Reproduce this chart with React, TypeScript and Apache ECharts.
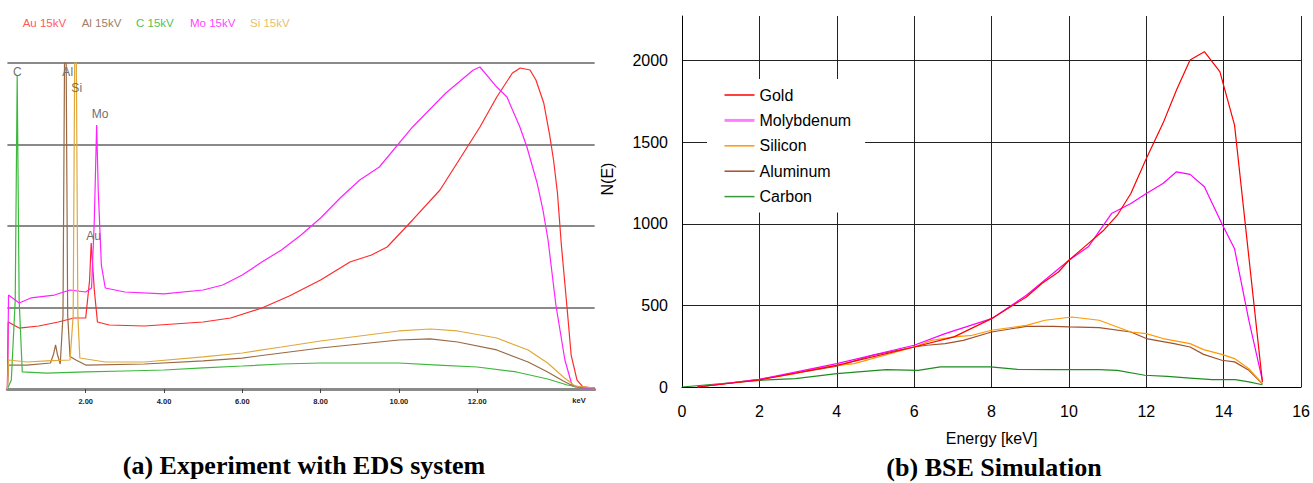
import React, { useEffect, useRef } from "react";
import * as echarts from "echarts";

// ---------- (a) Experiment with EDS system : [keV, counts] ----------
const auExp: number[][] = [[0,0],[0.02,822],[0.3,748],[0.8,773],[1.3,822],[1.7,871],[2.0,871],[2.1,1337],[2.14,1791],[2.22,1215],[2.3,822],[2.6,785],[3.5,773],[5.0,822],[5.7,871],[6.5,994],[7.2,1141],[8.0,1337],[8.75,1558],[9.3,1644],[9.7,1742],[10.35,2074],[11.05,2442],[11.65,2896],[12.07,3215],[12.5,3583],[12.9,3877],[13.1,3939],[13.35,3914],[13.5,3791],[13.7,3509],[13.85,3117],[13.95,2810],[14.05,2405],[14.15,1767],[14.3,969],[14.4,417],[14.55,110],[14.7,25],[15,12]];
const moExp: number[][] = [[0,0],[0.03,1153],[0.3,1055],[0.6,1117],[1.2,1153],[1.6,1215],[2.0,1190],[2.15,1239],[2.22,2074],[2.28,3239],[2.32,2442],[2.4,1521],[2.5,1239],[3.0,1190],[4.0,1166],[5.0,1215],[5.5,1276],[6.0,1399],[6.5,1558],[7.0,1706],[7.5,1890],[8.0,2098],[8.5,2344],[9.0,2564],[9.5,2724],[10.35,3215],[11.2,3632],[11.9,3914],[12.07,3951],[12.5,3705],[12.76,3583],[13.09,3215],[13.27,2969],[13.53,2528],[13.68,2196],[13.81,1828],[14.01,1031],[14.24,356],[14.42,49],[14.7,12],[15,12]];
const siExp: number[][] = [[0,0],[0.03,356],[0.5,331],[1.0,344],[1.6,356],[1.68,900],[1.72,4100],[1.76,4100],[1.8,900],[1.85,380],[2.5,331],[3.5,331],[5.0,393],[6.0,442],[7.0,515],[8.0,589],[9.0,650],[10.0,712],[10.8,736],[11.5,712],[12.5,626],[13.3,479],[13.8,319],[14.2,147],[14.5,37],[15,12]];
const alExp: number[][] = [[0,0],[0.03,294],[0.5,294],[1.1,319],[1.18,430],[1.23,540],[1.28,420],[1.35,307],[1.42,900],[1.46,4100],[1.5,4100],[1.54,900],[1.6,400],[1.75,356],[2.0,294],[3.5,307],[5.0,344],[6.0,380],[7.0,442],[8.0,503],[9.0,552],[10.0,601],[10.8,614],[11.5,577],[12.5,479],[13.3,331],[13.8,209],[14.2,98],[14.5,25],[15,12]];
const cExp: number[][] = [[0,0],[0.1,110],[0.2,1092],[0.25,3853],[0.3,1092],[0.38,209],[1.0,196],[2.0,209],[3.0,221],[4.0,233],[5.0,258],[6.0,282],[7.0,307],[8.0,319],[9.0,319],[10.0,319],[11.0,294],[12.0,270],[13.0,209],[13.8,123],[14.3,49],[14.7,12],[15,12]];
const expNames = ["Au 15kV", "Al 15kV", "C 15kV", "Mo 15kV", "Si 15kV"];
const expTicks = [2, 4, 6, 8, 10, 12];

// ---------- (b) BSE Simulation : [keV, N(E)] ----------
const gold: number[][] = [[0.4,0],[2,43],[4,133],[6,245],[7.03,307],[8,419],[8.9,552],[9.3,634],[9.73,705],[10,777],[10.4,859],[10.9,961],[11.25,1053],[11.6,1186],[12,1401],[12.43,1616],[12.78,1820],[13.13,2004],[13.5,2055],[13.9,1933],[14.28,1605],[15,30]];
const molybdenum: number[][] = [[0.4,0],[2,47],[4,143],[6,256],[6.8,327],[8,419],[8.9,562],[10,777],[10.5,859],[11.1,1063],[11.6,1125],[12,1186],[12.43,1247],[12.78,1319],[13.13,1303],[13.5,1227],[13.95,1002],[14.28,847],[14.65,409],[15,41]];
const silicon: number[][] = [[0.4,0],[2,47],[2.93,82],[3.4,112],[4,133],[4.45,143],[6,245],[6.45,286],[7.03,307],[7.5,317],[8,348],[8.9,378],[9.38,409],[10.08,429],[10.78,409],[11.6,337],[12,327],[12.43,297],[13.13,266],[13.48,229],[13.95,200],[14.28,174],[14.65,112],[15,20]];
const aluminum: number[][] = [[0.4,0],[2,47],[4,127],[4.92,194],[6,245],[6.33,256],[6.8,266],[7.27,286],[8,337],[8.44,354],[8.9,372],[9.6,372],[10,368],[10.78,364],[11.6,337],[12,297],[12.72,266],[13.13,245],[13.48,200],[13.95,164],[14.28,154],[14.65,102],[15,20]];
const carbon: number[][] = [[0,0],[2,41],[2.93,51],[4,82],[5.28,106],[6.1,102],[6.68,123],[7.97,123],[8.67,108],[9.6,106],[10.78,106],[11.25,102],[11.96,72],[12.54,65],[13.13,55],[13.7,45],[14.3,45],[14.65,31],[15,14]];
const simNames = ["Gold", "Molybdenum", "Silicon", "Aluminum", "Carbon"];
const yTicksSim = [0, 500, 1000, 1500, 2000];

const SANS = "'Liberation Sans', Arial, sans-serif";
const SERIF = "'Liberation Serif', 'Times New Roman', serif";

export default function App() {
  const ref = useRef<HTMLDivElement>(null);
  useEffect(() => {
    if (!ref.current) return;
    const chart = echarts.init(ref.current, undefined, { renderer: "svg" });
    const expColors = ["#ff2a2a", "#9a6a44", "#3cb83c", "#ff22ff", "#e0a83a"];
    const expData = [auExp, alExp, cExp, moExp, siExp];
    const simColors = ["#ff0000", "#ff00ff", "#ff9900", "#a0522d", "#1e8c1e"];
    const simData = [gold, molybdenum, silicon, aluminum, carbon];

    const expSeries = expNames.map((n, i) => ({
      name: n, type: "line", xAxisIndex: 0, yAxisIndex: 0, data: expData[i],
      symbol: "none", showSymbol: false, clip: true,
      lineStyle: { color: expColors[i], width: 1.2 }, itemStyle: { color: expColors[i] },
    }));
    const simSeries = simNames.map((n, i) => ({
      name: n, type: "line", xAxisIndex: 1, yAxisIndex: 1, data: simData[i],
      symbol: "none", showSymbol: false, clip: true,
      lineStyle: { color: simColors[i], width: 1.2 }, itemStyle: { color: simColors[i] },
    })).reverse();

    const legendColors = ["#ff0000", "#ff80ff", "#ff9900", "#a0522d", "#3a9a3a"];
    const legendWidths = [1.5, 3, 1.5, 1.5, 1.5];

    const option: any = {
      animation: false,
      backgroundColor: "#ffffff",
      grid: [
        { left: 7.4, top: 63, width: 587.25, height: 326 },
        { left: 682, top: 16, width: 621, height: 371 },
      ],
      xAxis: [
        {
          type: "value", gridIndex: 0, min: 0, max: 15, interval: 2,
          axisLine: { show: true, lineStyle: { color: "#8a8a8a", width: 3 } },
          axisTick: { show: true, length: 4, customValues: expTicks, lineStyle: { color: "#444", width: 1 } },
          axisLabel: {
            customValues: expTicks, margin: 8, fontSize: 7.5, fontWeight: "bold", color: "#222", fontFamily: SANS,
            formatter: (v: number) => (expTicks.indexOf(v) >= 0 ? v.toFixed(2) : ""),
          },
          splitLine: { show: false },
        },
        {
          type: "value", gridIndex: 1, min: 0, max: 16, interval: 2,
          axisLine: { show: true, lineStyle: { color: "#000", width: 1 } },
          axisTick: { show: false },
          axisLabel: { margin: 16, fontSize: 16, color: "#000", fontFamily: SANS },
          splitLine: { show: true, showMinLine: true, showMaxLine: true, lineStyle: { color: "#222", width: 1 } },
          name: "Energy [keV]", nameLocation: "middle", nameGap: 43,
          nameTextStyle: { fontSize: 16, color: "#000", fontFamily: SANS },
        },
      ],
      yAxis: [
        {
          type: "value", gridIndex: 0, min: 0, max: 4000, interval: 1000,
          axisLine: { show: false }, axisTick: { show: false }, axisLabel: { show: false },
          splitLine: { show: true, showMinLine: false, showMaxLine: true, lineStyle: { color: "#8a8a8a", width: 2 } },
        },
        {
          type: "value", gridIndex: 1, min: 0, max: 2274, interval: 500,
          axisLine: { show: true, lineStyle: { color: "#000", width: 1 } },
          axisTick: { show: false },
          axisLabel: {
            margin: 14, fontSize: 16, color: "#000", fontFamily: SANS,
            formatter: (v: number) => (yTicksSim.indexOf(v) >= 0 ? String(v) : ""),
          },
          splitLine: { show: true, showMinLine: false, showMaxLine: false, lineStyle: { color: "#222", width: 1 } },
        },
      ],
      legend: {
        orient: "vertical", left: 707, top: 79, padding: [8, 14, 8, 16],
        itemGap: 9.4, itemWidth: 30, itemHeight: 16, backgroundColor: "#ffffff",
        selectedMode: false,
        textStyle: { fontSize: 16, color: "#000", fontFamily: SANS },
        data: simNames.map((n, i) => ({
          name: n,
          lineStyle: { color: legendColors[i], width: legendWidths[i] },
          itemStyle: { color: legendColors[i], opacity: 0, borderWidth: 0 },
        })),
      },
      graphic: [
        ...expNames.map((n, i) => ({
          type: "text", x: [22.7, 81.7, 136, 190, 250][i], y: 22.5,
          style: { text: n, fill: ["#ff5a5a", "#a0806a", "#55c055", "#ff44ff", "#e8bf6a"][i], font: `11.5px ${SANS}`, textAlign: "left", textVerticalAlign: "middle" },
          z: 10,
        })),
        ...[["C", 17.3, 71.7], ["Al", 67.7, 71.7], ["Si", 76.7, 87.7], ["Mo", 100, 114], ["Au", 93.5, 236]].map((p) => ({
          type: "text", x: p[1], y: p[2],
          style: { text: p[0], fill: "#707070", font: `12px ${SANS}`, textAlign: "center", textVerticalAlign: "middle" },
          z: 10,
        })),
        { type: "text", x: 579, y: 400.5, style: { text: "keV", fill: "#222", font: `bold 7.5px ${SANS}`, textAlign: "center", textVerticalAlign: "middle" } },
        { type: "text", x: 607, y: 179, rotation: Math.PI / 2, style: { text: "N(E)", fill: "#000", font: `16px ${SANS}`, textAlign: "center", textVerticalAlign: "middle" } },
        { type: "text", x: 304, y: 465, style: { text: "(a) Experiment with EDS system", fill: "#000", font: `bold 26px ${SERIF}`, textAlign: "center", textVerticalAlign: "middle" } },
        { type: "text", x: 994, y: 467, style: { text: "(b) BSE Simulation", fill: "#000", font: `bold 26px ${SERIF}`, textAlign: "center", textVerticalAlign: "middle" } },
      ],
      series: [...expSeries, ...simSeries],
    };
    chart.setOption(option);
    return () => chart.dispose();
  }, []);
  return <div ref={ref} style={{ position: "fixed", left: 0, top: 0, width: 1313, height: 483 }} />;
}
